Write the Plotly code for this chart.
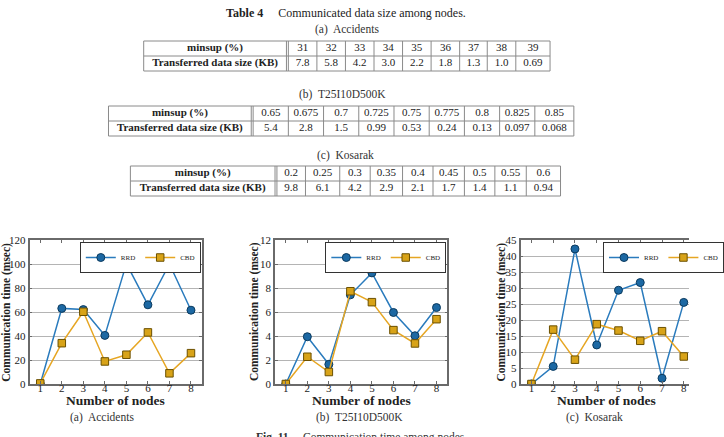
import plotly.graph_objects as go
from itertools import accumulate

W, H = 724, 437

# ---------------- data ----------------
row_labels = ["minsup (%)", "Transferred data size (KB)"]
acc_minsup = ["31", "32", "33", "34", "35", "36", "37", "38", "39"]
acc_size = ["7.8", "5.8", "4.2", "3.0", "2.2", "1.8", "1.3", "1.0", "0.69"]
t25_minsup = ["0.65", "0.675", "0.7", "0.725", "0.75", "0.775", "0.8", "0.825", "0.85"]
t25_size = ["5.4", "2.8", "1.5", "0.99", "0.53", "0.24", "0.13", "0.097", "0.068"]
kos_minsup = ["0.2", "0.25", "0.3", "0.35", "0.4", "0.45", "0.5", "0.55", "0.6"]
kos_size = ["9.8", "6.1", "4.2", "2.9", "2.1", "1.7", "1.4", "1.1", "0.94"]

nodes = [1, 2, 3, 4, 5, 6, 7, 8]
acc_rrd = [0, 63, 62, 40.5, 100.3, 66, 100, 61.5]
acc_cbd = [0.5, 34, 60.2, 18.8, 24.4, 43, 8.9, 25.7]
t25_rrd = [0, 3.94, 1.64, 7.43, 9.26, 5.96, 4.02, 6.37]
t25_cbd = [0, 2.27, 1.0, 7.73, 6.82, 4.49, 3.38, 5.4]
kos_rrd = [0, 5.5, 42.2, 12.2, 29.3, 31.7, 1.8, 25.5]
kos_cbd = [0, 17.0, 7.6, 18.7, 16.7, 13.5, 16.5, 8.6]

# ---------------- styles ----------------
SERIF = "Liberation Serif, Times New Roman, serif"
BLUE_LINE, BLUE_FILL, BLUE_EDGE = "#2a7bbd", "#1c68a3", "#0b3a5e"
GOLD_LINE, GOLD_FILL, GOLD_EDGE = "#e6a623", "#d8a318", "#6b5000"
GRID, SPINE = "#b4b4b4", "#6a6a6a"
TLINE = "#8a8a8a"
TXT = "#222"
ROW_H = 15

fig = go.Figure()


def px_x(x):
    return x / W


def px_y(y):
    return 1 - y / H


def ann(text, x, y, size, angle=0, color=TXT):
    fig.add_annotation(x=px_x(x), y=px_y(y), xref="paper", yref="paper", showarrow=False,
                       xanchor="center", yanchor="middle", textangle=angle, text=text,
                       font=dict(family=SERIF, size=size, color=color))


# ---------------- tables (drawn on a hidden pixel-scaled axis) ----------------
TAB_BOTTOM = 205
fig.update_layout(
    xaxis4=dict(domain=[0, 1], range=[0, W], visible=False, fixedrange=True, anchor="y4"),
    yaxis4=dict(domain=[px_y(TAB_BOTTOM), 1], range=[TAB_BOTTOM, 0], visible=False,
                fixedrange=True, anchor="x4"),
)

tables = [
    (acc_minsup, acc_size, 151, 41, 150, [30, 30, 30, 30, 30, 30, 29, 30, 36]),
    (t25_minsup, t25_size, 114, 106, 150, [37, 37, 37, 37, 37, 37, 37, 37, 41]),
    (kos_minsup, kos_size, 137, 166, 152, [30, 36, 32, 34, 32, 33, 32, 33, 36]),
]
for ms, sz, x0, y0, wl, widths in tables:
    xl = x0 + wl                  # end of label column
    xd = xl + 2                   # start of data columns (double rule)
    edges = [xd] + [xd + s for s in accumulate(widths)]
    xend = edges[-1]
    centers = [(a + b) / 2 for a, b in zip(edges[:-1], edges[1:])]
    lab_c = (x0 + xl) / 2
    for r in range(3):
        fig.add_shape(type="line", xref="x4", yref="y4", x0=x0, x1=xend,
                      y0=y0 + r * ROW_H, y1=y0 + r * ROW_H, line=dict(color=TLINE, width=1))
    for xv in [x0, xl] + edges:
        fig.add_shape(type="line", xref="x4", yref="y4", x0=xv, x1=xv,
                      y0=y0, y1=y0 + 2 * ROW_H, line=dict(color=TLINE, width=1))
    for r, (lab, vals) in enumerate([(row_labels[0], ms), (row_labels[1], sz)]):
        yc = y0 + (r + 0.5) * ROW_H
        fig.add_trace(go.Scatter(
            x=[lab_c] + centers, y=[yc] * (len(vals) + 1), mode="text",
            text=["<b>" + lab + "</b>"] + vals, textposition="middle center",
            textfont=dict(family=SERIF, size=11, color=TXT),
            xaxis="x4", yaxis="y4", showlegend=False, hoverinfo="skip"))

ann("<b>Table 4</b>     Communicated data size among nodes.", 364, 13, 12)
ann("(a)  Accidents", 365, 29, 11.5, color="#333")
ann("(b)  T25I10D500K", 360, 95, 11.5, color="#333")
ann("(c)  Kosarak", 363, 155, 11.5, color="#333")

# ---------------- charts ----------------
charts = [
    (acc_rrd, acc_cbd, 31, 212, [0.5, 8.5], [0, 120], 20, "(a)  Accidents", 107, 6, True),
    (t25_rrd, t25_cbd, 289, 470, [0.5, 8.5], [0, 12], 2, "(b)  T25I10D500K", 378, 267, True),
    (kos_rrd, kos_cbd, 547, 724, [0.5, 8.24], [0, 45], 5, "(c)  Kosarak", 625, 526, False),
]
TOP, BOT = 240, 384
for i, (rrd, cbd, x0, x1, xr, yr, dt, cap, capx, ytx, mir) in enumerate(charts):
    n = "" if i == 0 else str(i + 1)
    leg = "legend" + n
    fig.add_trace(go.Scatter(x=nodes, y=rrd, name="RRD", mode="lines+markers",
                             xaxis="x" + n, yaxis="y" + n, legend=leg,
                             line=dict(color=BLUE_LINE, width=1.5),
                             marker=dict(symbol="circle", size=8, color=BLUE_FILL,
                                         line=dict(color=BLUE_EDGE, width=1))))
    fig.add_trace(go.Scatter(x=nodes, y=cbd, name="CBD", mode="lines+markers",
                             xaxis="x" + n, yaxis="y" + n, legend=leg,
                             line=dict(color=GOLD_LINE, width=1.5),
                             marker=dict(symbol="square", size=7.5, color=GOLD_FILL,
                                         line=dict(color=GOLD_EDGE, width=1))))
    fig.update_layout(**{
        "xaxis" + n: dict(domain=[px_x(x0), px_x(x1)], range=xr, anchor="y" + n,
                          tickmode="array", tickvals=nodes, showgrid=False,
                          showline=True, linecolor=SPINE, linewidth=1.5, mirror="ticks",
                          ticks="inside", ticklen=3, tickcolor=SPINE, zeroline=False,
                          ticklabelstandoff=-7,
                          tickfont=dict(family=SERIF, size=11, color=TXT),
                          automargin=False, fixedrange=True),
        "yaxis" + n: dict(domain=[px_y(BOT), px_y(TOP)], range=yr, anchor="x" + n,
                          dtick=dt, showgrid=True, gridcolor=GRID, gridwidth=1,
                          showline=True, linecolor=SPINE, linewidth=1.5,
                          mirror="ticks" if mir else False,
                          ticks="inside", ticklen=3, tickcolor=SPINE, zeroline=False,
                          tickfont=dict(family=SERIF, size=11, color=TXT),
                          automargin=False, fixedrange=True),
        leg: dict(x=px_x(x1 - 1) if mir else px_x(634), xanchor="right" if mir else "left",
                  y=px_y(242), yanchor="top", orientation="h",
                  bgcolor="white", bordercolor="#333", borderwidth=1,
                  font=dict(family=SERIF, size=7, color=TXT), itemwidth=30,
                  tracegroupgap=0),
    })
    ann("<b>Number of nodes</b>", (x0 + (x1 if mir else 728)) / 2, 400, 13.5)
    ann("<b>Communication time (msec)</b>", ytx, (TOP + BOT) / 2, 11.5, angle=-90)
    ann(cap, capx, 417, 11.5, color="#333")

ann("<b>Fig. 11</b>     Communication time among nodes.", 380, 437, 11.5, color="#333")

fig.update_layout(width=W, height=H, margin=dict(l=0, r=0, t=0, b=0),
                  paper_bgcolor="white", plot_bgcolor="white", showlegend=True)

fig.write_html("out.html")
